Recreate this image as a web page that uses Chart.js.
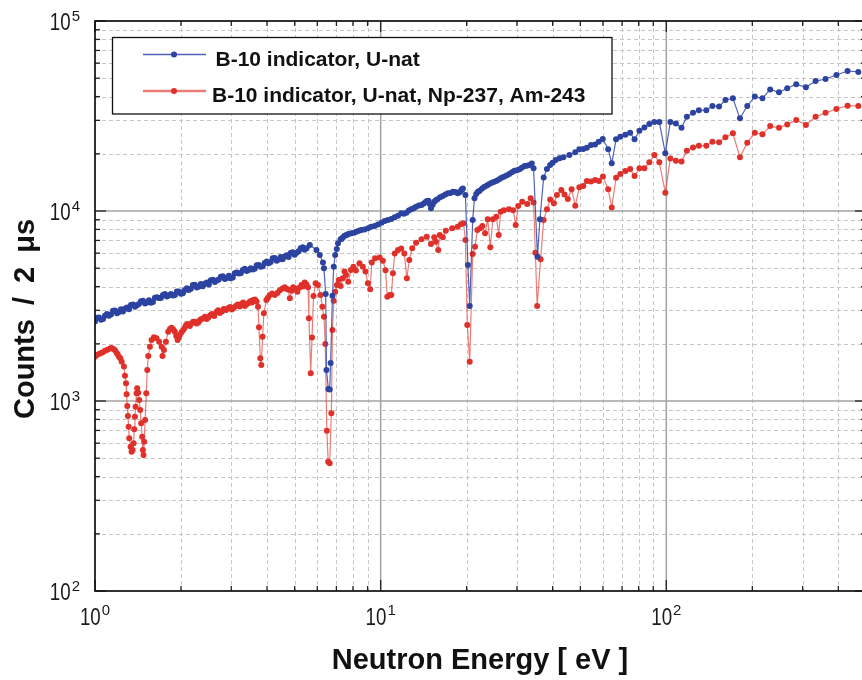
<!DOCTYPE html>
<html>
<head>
<meta charset="utf-8">
<script src="https://cdn.jsdelivr.net/npm/chart.js@4.4.1/dist/chart.umd.min.js"></script>
<style>
  html, body { margin: 0; padding: 0; background: #fff; overflow: hidden; }
  #wrap { width: 870px; height: 680px; }
</style>
</head>
<body>
<div id="wrap"><canvas id="chart" width="870" height="680"></canvas></div>
<script>
// Neutron energy (eV) and counts per 2 us
const blueEnergy = [
  1.000, 1.033, 1.067, 1.101, 1.137, 1.175, 1.213, 1.253, 1.294, 1.336,
  1.380, 1.425, 1.472, 1.520, 1.570, 1.621, 1.674, 1.729, 1.785, 1.844,
  1.904, 1.966, 2.031, 2.097, 2.166, 2.236, 2.310, 2.385, 2.463, 2.544,
  2.627, 2.713, 2.801, 2.893, 2.987, 3.085, 3.186, 3.290, 3.398, 3.509,
  3.623, 3.742, 3.864, 3.990, 4.121, 4.255, 4.395, 4.538, 4.687, 4.840,
  4.998, 5.162, 5.330, 5.505,
  5.65, 5.96, 6.12, 6.28, 6.33, 6.42, 6.46, 6.56, 6.63, 6.68,
  6.78, 6.85, 6.93, 7.02, 7.09, 7.24, 7.38, 7.59, 7.90, 8.22,
  8.56, 9.03, 9.53, 10.06, 10.6, 11.19, 11.81, 12.3, 12.8, 13.3,
  13.9, 14.4, 14.7, 15.0, 15.4, 15.8, 16.5, 17.2, 17.9, 18.6,
  19.1, 19.4, 19.8, 20.2, 20.5, 21.0, 21.3, 21.9, 22.2, 23.1,
  24.0, 25.0, 26.0, 27.0, 28.2, 29.4, 30.6, 31.9, 33.2, 33.8,
  34.3, 35.4, 36.1, 37.2, 38.2, 39.2, 40.0, 41.0, 42.3, 43.6,
  45.8, 48.0, 49.6, 51.2, 52.7, 54.5, 56.3, 58.0, 59.9, 62.6,
  64.4, 66.7, 69.0, 71.9, 74.7, 77.4, 80.5, 83.8, 87.2, 90.8,
  94.5, 99.2, 103.3, 108, 113, 118, 124, 130, 138, 145,
  153, 161, 171, 181, 192, 204, 217, 231, 248, 265,
  285, 308, 333, 361, 394, 431, 470,
];
const blueCounts = [
  2621, 2751, 2701, 2870, 2853, 2994, 2940, 2958, 3101, 3196,
  3131, 3239, 3371, 3302, 3294, 3493, 3484, 3617, 3552, 3662,
  3617, 3775, 3694, 3922, 3899, 4093, 4004, 4014, 4200, 4319,
  4225, 4365, 4540, 4442, 4431, 4700, 4695, 4892, 4828, 4999,
  4963, 5197, 5116, 5428, 5390, 5650, 5549, 5576, 5846, 6019,
  5882, 6137, 6441, 6364,
  6620, 6232, 5860, 5350, 4990, 3660, 1455, 1156, 1150, 1585,
  3580, 5090, 5860, 6310, 6760, 7100, 7270, 7475, 7630, 7780,
  7940, 8110, 8340, 8680, 8970, 9265, 9725, 9800, 10210, 10540,
  10760, 11200, 11320, 10330, 11200, 11540, 12000, 12390, 12640, 12390,
  12800, 13150, 12130, 5200, 3160, 8980, 11660, 12640, 12800, 13430,
  13880, 14270, 14680, 15160, 15670, 16300, 16570, 17250, 17450, 17800,
  16780, 5750, 9040, 15030, 16640, 17460, 17950, 18530, 18940, 19170,
  19700, 20380, 21150, 21180, 21520, 22240, 22420, 23160, 23930, 21150,
  17830, 23840, 24600, 25200, 25840, 23840, 26480, 27540, 28700, 29400,
  29400, 20130, 29400, 28900, 27400, 31330, 32850, 33860, 33900, 35700,
  35500, 38400, 39170, 30740, 35700, 40000, 39170, 43660, 42150, 44250,
  46470, 44800, 48300, 49500, 51960, 54550, 53940,
];
// the densely packed stretches (1-5.5 eV and 7-33 eV) need the in-between bins too
const blueDenseEnergy = [
  1.016, 1.050, 1.084, 1.119, 1.156, 1.194, 1.233, 1.273, 1.315, 1.358,
  1.402, 1.448, 1.496, 1.545, 1.595, 1.647, 1.701, 1.757, 1.814, 1.874,
  1.935, 1.998, 2.064, 2.131, 2.201, 2.273, 2.347, 2.424, 2.503, 2.585,
  2.670, 2.757, 2.847, 2.940, 3.036, 3.136, 3.238, 3.344, 3.453, 3.566,
  3.683, 3.803, 3.927, 4.056, 4.188, 4.325, 4.467, 4.613, 4.763, 4.919,
  5.080, 5.246, 5.417,
  7.31, 7.48, 7.66, 7.75, 8.06, 8.39, 8.78, 9.27, 9.78, 10.33,
  10.9, 11.5, 12.05, 12.55, 13.05, 13.6, 14.15, 14.55, 14.85, 15.2,
  15.6, 16.15, 16.85, 17.55, 18.25, 18.9, 19.25, 21.6, 22.65, 23.55,
  24.5, 25.5, 26.5, 27.6, 28.8, 30.0, 31.2, 32.5,
];
const blueDenseCounts = [
  2743, 2677, 2810, 2810, 2985, 2896, 3041, 3058, 3038, 3222,
  3195, 3345, 3257, 3391, 3321, 3521, 3487, 3662, 3596, 3596,
  3775, 3666, 3842, 3842, 4081, 3952, 4133, 4143, 4105, 4348,
  4306, 4504, 4380, 4556, 4467, 4741, 4706, 4963, 4898, 4921,
  5188, 5094, 5318, 5312, 5638, 5465, 5733, 5761, 5720, 6059,
  6026, 6364, 6249,
  7150, 7400, 7520, 7600, 7690, 7880, 8000, 8250, 8480, 8850,
  9080, 9450, 9680, 10050, 10330, 10680, 10950, 11300, 10900, 10800,
  11380, 11800, 12220, 12450, 12600, 12550, 13000, 12300, 13150, 13620,
  14100, 14450, 14950, 15380, 16000, 16380, 16900, 17300,
];

const redEnergy = [
  1.000, 1.040, 1.084, 1.128, 1.159, 1.190, 1.213, 1.240, 1.263, 1.273,
  1.284, 1.290, 1.297, 1.304, 1.311, 1.318, 1.332, 1.343, 1.354, 1.365,
  1.372, 1.380, 1.387, 1.398, 1.405, 1.417, 1.428, 1.440, 1.451, 1.463,
  1.471, 1.479, 1.486, 1.498, 1.512, 1.524, 1.536, 1.557, 1.578, 1.608,
  1.642, 1.677, 1.710, 1.723, 1.743, 1.771, 1.804, 1.854, 1.904, 1.945,
  1.980, 2.036, 2.080, 2.120, 2.175, 2.237, 2.300, 2.357, 2.425, 2.494,
  2.566, 2.664, 2.735, 2.825, 2.924, 3.013, 3.112, 3.260, 3.346, 3.440,
  3.512, 3.580, 3.680, 3.720, 3.750, 3.790, 3.820, 3.860, 3.900, 3.980,
  4.090, 4.260, 4.430, 4.610, 4.740, 4.810, 4.940, 5.110, 5.280, 5.420,
  5.570, 5.610, 5.690, 5.750, 5.820, 5.920, 6.030, 6.160, 6.250, 6.330,
  6.400, 6.480, 6.550, 6.630, 6.720, 6.780, 6.850, 6.930, 7.030, 7.130,
  7.240, 7.370, 7.470, 7.570, 7.700, 7.870, 8.030, 8.190, 8.430, 8.660,
  8.850, 9.020, 9.190, 9.310, 9.560, 9.920, 10.18, 10.40, 10.55, 10.76,
  10.90, 11.04, 11.20, 11.50, 11.80, 12.10, 12.35, 12.60, 12.90, 13.30,
  13.90, 14.50, 15.00, 15.40, 15.60, 15.90, 16.10, 16.50, 16.90, 17.80,
  18.60, 19.10, 19.50, 19.80, 20.10, 20.50, 21.00, 21.40, 21.80, 22.30,
  22.70, 23.20, 23.70, 24.20, 24.70, 25.40, 25.90, 26.30, 27.00, 28.10,
  29.10, 29.70, 30.30, 31.30, 32.60, 33.50, 34.30, 34.80, 35.30, 36.30,
  37.20, 38.20, 39.20, 40.40, 41.40, 42.90, 44.00, 45.20, 46.60, 48.00,
  49.60, 51.20, 52.70, 54.50, 56.30, 58.10, 60.00, 62.60, 64.40, 66.70,
  69.00, 71.90, 74.70, 77.40, 80.50, 83.80, 87.20, 90.80, 94.50, 99.20,
  103.3, 108, 113, 118, 124, 130, 138, 145, 153, 161,
  171, 181, 192, 204, 217, 231, 248, 265, 285, 308,
  333, 361, 394, 431, 470,
];
const redCounts = [
  1710, 1780, 1840, 1890, 1880, 1795, 1710, 1610, 1520, 1356,
  1240, 1085, 942, 834, 733, 637, 575, 541, 552, 599,
  710, 827, 933, 1097, 1166, 1106, 1012, 897, 764, 649,
  552, 520, 611, 795, 1097, 1455, 1725, 1930, 2096, 2163,
  2140, 2050, 1930, 1725, 1855, 2050, 2317, 2432, 2317, 2096,
  2224, 2364, 2497, 2512, 2558, 2614, 2590, 2701, 2779, 2751,
  2870, 2953, 2905, 3050, 3076, 3031, 3162, 3243, 3162, 3270,
  3360, 3404, 3340, 3135, 2442, 1677, 1545, 2180, 2896, 3404,
  3614, 3614, 3810, 3966, 3860, 3475, 3966, 3759, 4083, 4200,
  3966, 2724, 1399, 2162, 3570, 4160, 4083, 3614, 3135, 2779,
  1995, 698, 479, 470, 861, 2365, 3375, 3759, 4083, 4337,
  4026, 4430, 4800, 4600, 4245, 4885, 5090, 4860, 5310, 5090,
  4800, 4160, 3870, 5350, 5640, 5700, 5480, 4880, 3540, 3614,
  3614, 4700, 5980, 6230, 6350, 5980, 4430, 5520, 6370, 6810,
  7100, 7330, 6700, 7270, 6890, 6230, 7480, 7270, 7870, 8110,
  8270, 8510, 8610, 7030, 2512, 1610, 5940, 6490, 7940, 8110,
  8330, 7640, 9040, 6440, 9040, 9330, 7480, 9900, 10100, 10200,
  10100, 8430, 10620, 11200, 10890, 11660, 11070, 6030, 3160, 5570,
  8980, 10200, 11500, 10990, 12140, 12880, 12230, 11560, 13000, 10660,
  13330, 13550, 14390, 14310, 14550, 14400, 15170, 13000, 10440, 14970,
  15660, 16230, 16640, 15270, 16780, 16780, 18030, 19720, 18030, 12480,
  18920, 18390, 18200, 20740, 21610, 22080, 22080, 23160, 23000, 24440,
  25640, 19180, 22900, 25830, 25330, 28000, 27420, 28560, 30130, 28370,
  31330, 32860, 34440, 35820, 35700,
];
const redDenseEnergy = [
  1.020, 1.062, 1.106, 1.143, 1.175, 1.200, 1.227,
  1.830, 1.880, 1.925, 1.962, 2.008, 2.058, 2.100, 2.147, 2.205, 2.268,
  2.328, 2.390, 2.460, 2.530, 2.615, 2.700, 2.780, 2.875, 2.970, 3.060,
  3.160, 3.210, 3.300, 3.390, 3.475, 3.545, 3.630,
  4.030, 4.170, 4.350, 4.520, 4.680, 4.880, 5.030, 5.190, 5.350, 5.490,
];
const redDenseCounts = [
  1750, 1800, 1860, 1900, 1850, 1760, 1680,
  2390, 2380, 2200, 2150, 2300, 2420, 2540, 2480, 2610, 2560,
  2660, 2720, 2700, 2830, 2800, 3000, 2960, 3010, 3120, 3100,
  3220, 3140, 3300, 3230, 3320, 3300, 3420,
  3500, 3680, 3700, 3900, 3900, 3800, 3900, 3950, 4000, 4120,
];

const seriesNames = ['B-10 indicator, U-nat', 'B-10 indicator, U-nat, Np-237, Am-243'];

// tick positions on both log axes; the decades get a 10^n label
const xTicks = [1, 2, 3, 4, 5, 6, 7, 8, 9, 10, 20, 30, 40, 50, 60, 70, 80, 90, 100, 200, 300, 400, 500];
const yTicks = [100, 200, 300, 400, 500, 600, 700, 800, 900, 1000, 2000, 3000, 4000, 5000, 6000, 7000,
  8000, 9000, 10000, 20000, 30000, 40000, 50000, 60000, 70000, 80000, 90000, 100000];
const xDecades = [1, 10, 100];
const yDecades = [100, 1000, 10000, 100000];

const BLUE = '#2c43a0';
const BLUE_LINE = 'rgba(50, 72, 170, 0.85)';
const RED = '#e0302a';
const RED_LINE = 'rgba(228, 70, 60, 0.7)';
const FONT = '"Liberation Sans", Arial, Helvetica, sans-serif';

// merge the readings of one series and order them by energy
function points(pairs) {
  const pts = [];
  pairs.forEach(([xs, ys]) => {
    xs.forEach((x, i) => pts.push({ x, y: ys[i] }));
  });
  return pts.sort((a, b) => a.x - b.x);
}

function isDecade(v) {
  return Math.abs(Math.log10(v) - Math.round(Math.log10(v))) < 1e-9;
}

// "10" narrow, exponent small and raised, like the original axes
function powLabel(ctx, value, anchorX, cy, align) {
  const exp = String(Math.round(Math.log10(value)));
  const sx = 0.78;
  ctx.font = `24px ${FONT}`;
  const w = ctx.measureText('10').width * sx;
  ctx.font = `15px ${FONT}`;
  const ew = ctx.measureText(exp).width;
  const total = w + 1 + ew;
  const left = align === 'right' ? anchorX - total : anchorX - total / 2;

  ctx.save();
  ctx.translate(left, cy);
  ctx.scale(sx, 1);
  ctx.font = `24px ${FONT}`;
  ctx.textAlign = 'left';
  ctx.textBaseline = 'middle';
  ctx.fillText('10', 0, 0);
  ctx.restore();

  ctx.font = `15px ${FONT}`;
  ctx.textAlign = 'left';
  ctx.textBaseline = 'middle';
  ctx.fillText(exp, left + w + 1, cy - 7);
}

function segment(ctx, x1, y1, x2, y2) {
  ctx.beginPath();
  ctx.moveTo(x1, y1);
  ctx.lineTo(x2, y2);
  ctx.stroke();
}

const frame = {
  id: 'frame',
  beforeDatasetsDraw(chart) {
    const { ctx, chartArea: a, scales: { x, y } } = chart;
    ctx.save();
    // dashed minor grid first, solid decade lines over it
    ctx.lineWidth = 1;
    ctx.strokeStyle = '#c6c6c6';
    ctx.setLineDash([4, 3]);
    xTicks.filter((v) => !isDecade(v)).forEach((v) => {
      const px = Math.round(x.getPixelForValue(v)) + 0.5;
      segment(ctx, px, a.top, px, a.bottom);
    });
    yTicks.filter((v) => !isDecade(v)).forEach((v) => {
      const py = Math.round(y.getPixelForValue(v)) + 0.5;
      segment(ctx, a.left, py, a.right, py);
    });
    ctx.setLineDash([]);
    ctx.lineWidth = 1.5;
    ctx.strokeStyle = '#a2a2a2';
    xDecades.forEach((v) => {
      const px = x.getPixelForValue(v);
      segment(ctx, px, a.top, px, a.bottom);
    });
    yDecades.forEach((v) => {
      const py = y.getPixelForValue(v);
      segment(ctx, a.left, py, a.right, py);
    });
    ctx.restore();
  },
  afterDraw(chart) {
    const { ctx, chartArea: a, scales: { x, y } } = chart;
    ctx.save();

    // inward tick marks on all four sides
    ctx.strokeStyle = '#222';
    ctx.lineWidth = 1.3;
    xTicks.forEach((v) => {
      const px = x.getPixelForValue(v);
      const len = isDecade(v) ? 11 : 5;
      segment(ctx, px, a.top, px, a.top + len);
      segment(ctx, px, a.bottom, px, a.bottom - len);
    });
    yTicks.forEach((v) => {
      const py = y.getPixelForValue(v);
      const len = isDecade(v) ? 11 : 5;
      segment(ctx, a.left, py, a.left + len, py);
      segment(ctx, a.right, py, a.right - len, py);
    });

    ctx.lineWidth = 1.6;
    ctx.strokeStyle = '#111';
    ctx.strokeRect(a.left, a.top, a.right - a.left, a.bottom - a.top);

    // tick labels
    ctx.fillStyle = '#1a1a1a';
    yDecades.forEach((v) => powLabel(ctx, v, a.left - 15, y.getPixelForValue(v) + 2.5, 'right'));
    xDecades.forEach((v) => powLabel(ctx, v, x.getPixelForValue(v), a.bottom + 27, 'center'));

    // axis titles
    ctx.fillStyle = '#111';
    ctx.font = `bold 29px ${FONT}`;
    ctx.textAlign = 'center';
    ctx.textBaseline = 'middle';
    ctx.fillText('Neutron Energy [ eV ]', 480, 661);

    ctx.save();
    ctx.translate(26, 419);
    ctx.rotate(-Math.PI / 2);
    ctx.textAlign = 'left';
    ctx.wordSpacing = '6px';
    ctx.fillText('Counts / 2 μs', 0, 0);
    ctx.restore();

    // legend box
    ctx.fillStyle = '#fff';
    ctx.fillRect(112.5, 37.5, 499.5, 76.5);
    ctx.lineWidth = 1.3;
    ctx.strokeStyle = '#111';
    ctx.strokeRect(112.5, 37.5, 499.5, 76.5);

    const rows = [
      { y: 54.5, line: BLUE_LINE, dot: BLUE, width: 1.5, textX: 215.5, textY: 60 },
      { y: 91, line: RED_LINE, dot: RED, width: 2.5, textX: 212, textY: 96 },
    ];
    rows.forEach((r, i) => {
      ctx.strokeStyle = r.line;
      ctx.lineWidth = r.width;
      segment(ctx, 143, r.y, 206, r.y);
      ctx.fillStyle = r.dot;
      ctx.beginPath();
      ctx.arc(174, r.y, 3, 0, Math.PI * 2);
      ctx.fill();
      ctx.fillStyle = '#111';
      ctx.font = `bold 21px ${FONT}`;
      ctx.textAlign = 'left';
      ctx.textBaseline = 'middle';
      ctx.fillText(seriesNames[i], r.textX, r.textY);
    });

    ctx.restore();
  },
};

new Chart(document.getElementById('chart'), {
  type: 'line',
  data: {
    datasets: [{
      label: seriesNames[0],
      data: points([[blueEnergy, blueCounts], [blueDenseEnergy, blueDenseCounts]]),
      borderColor: BLUE_LINE,
      backgroundColor: BLUE,
      pointBackgroundColor: BLUE,
      pointBorderWidth: 0,
      pointRadius: 3,
      borderWidth: 1.2,
      tension: 0,
    }, {
      label: seriesNames[1],
      data: points([[redEnergy, redCounts], [redDenseEnergy, redDenseCounts]]),
      borderColor: RED_LINE,
      backgroundColor: RED,
      pointBackgroundColor: RED,
      pointBorderWidth: 0,
      pointRadius: 3,
      borderWidth: 1.2,
      tension: 0,
    }],
  },
  options: {
    responsive: false,
    animation: false,
    devicePixelRatio: 1,
    parsing: false,
    layout: { padding: { left: 95, right: 3, top: 21, bottom: 89 } },
    plugins: { legend: { display: false }, tooltip: { enabled: false } },
    scales: {
      x: { type: 'logarithmic', min: 1, max: 500, display: false },
      y: { type: 'logarithmic', min: 100, max: 100000, display: false },
    },
  },
  plugins: [frame],
});
</script>
</body>
</html>
